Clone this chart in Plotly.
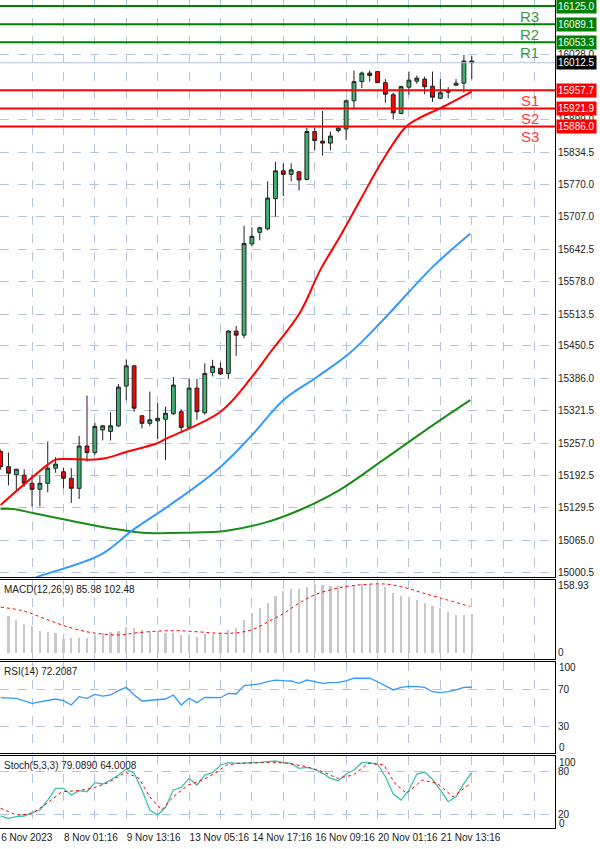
import plotly.graph_objects as go

# ---- price candles (4h bars), index 0..60
bar_idx = list(range(61))
opens = [15241, 15211, 15195, 15194, 15178, 15166, 15178, 15208, 15201, 15188,
         15168, 15252, 15239, 15284, 15281, 15292, 15371, 15411, 15312, 15297,
         15302, 15305, 15316, 15320, 15289, 15367, 15318, 15398, 15406, 15396,
         15480, 15472, 15653, 15676, 15683, 15743, 15798, 15791, 15796, 15781,
         15876, 15857, 15853, 15878, 15881, 15937, 15975, 15992, 15995, 15973,
         15949, 15912, 15964, 15976, 15980, 15966, 15942, 15954, 15968, 15972, 16016]
highs = [15245, 15239, 15206, 15206, 15195, 15193, 15261, 15230, 15209, 15208,
         15272, 15352, 15298, 15293, 15319, 15375, 15424, 15413, 15313, 15360,
         15337, 15330, 15389, 15325, 15385, 15385, 15416, 15423, 15418, 15482,
         15490, 15689, 15686, 15687, 15777, 15816, 15813, 15813, 15797, 15883,
         15884, 15917, 15876, 15886, 15940, 15997, 15995, 15997, 15996, 15980,
         15953, 15967, 15995, 15987, 15985, 15995, 15980, 15964, 15980, 16028, 16026]
lows = [15205, 15174, 15163, 15171, 15132, 15132, 15160, 15199, 15168, 15139,
        15147, 15221, 15234, 15263, 15263, 15290, 15343, 15320, 15287, 15292,
        15266, 15224, 15314, 15281, 15287, 15304, 15314, 15390, 15393, 15385,
        15431, 15466, 15648, 15660, 15680, 15707, 15748, 15777, 15759, 15779,
        15839, 15828, 15839, 15874, 15859, 15920, 15962, 15975, 15972, 15933,
        15900, 15910, 15949, 15971, 15950, 15935, 15940, 15942, 15966, 15953, 15980]
closes = [15211, 15198, 15206, 15178, 15166, 15178, 15208, 15216, 15188, 15168,
          15252, 15239, 15291, 15292, 15292, 15369, 15411, 15327, 15297, 15304,
          15307, 15317, 15373, 15289, 15367, 15320, 15396, 15410, 15395, 15480,
          15472, 15654, 15668, 15685, 15744, 15798, 15791, 15800, 15780, 15876,
          15858, 15853, 15867, 15883, 15937, 15975, 15992, 15987, 15973, 15950,
          15913, 15965, 15978, 15982, 15965, 15944, 15953, 15958, 15972, 16016, 16012.5]

# moving averages (knots)
ma_red_x = [0, 6, 7, 8.5, 12.7, 16, 20, 21, 28, 32, 34.3, 38.1, 40.7, 43.2, 45.8, 48.7, 51.6, 53.6, 56.1, 60]
ma_red_y = [15135, 15215, 15225, 15226, 15226, 15240, 15258, 15266, 15320, 15389, 15437, 15516,
            15601, 15667, 15740, 15820, 15885, 15905, 15923, 15955]
ma_blue_x = [3.5, 5, 12.7, 16.9, 21.2, 27.6, 31.8, 36, 40.3, 44.5, 48.7, 55, 59.8]
ma_blue_y = [14985, 14994, 15036, 15086, 15131, 15205, 15270, 15343, 15389, 15437, 15502, 15607, 15673]
ma_green_x = [0, 1.6, 4.1, 8.5, 13.9, 18.1, 23.8, 28.8, 33.9, 38.1, 43.2, 48.7, 55.1, 59.8]
ma_green_y = [15127, 15127, 15119, 15105, 15089, 15080, 15080, 15084, 15101, 15125, 15165, 15224, 15294, 15343]

resist = [16053.3, 16089.1, 16125.0]
support = [15957.7, 15921.9, 15886.0]
last_price = 16012.5

price_ticks = [16028.0, 15899.0, 15834.5, 15770.0, 15707.0, 15642.5, 15578.0, 15513.5,
               15450.5, 15386.0, 15321.5, 15257.0, 15192.5, 15129.5, 15065.0, 15000.5]

# MACD
macd_x = list(range(1, 61))
macd_hist = [87.0, 77.6, 68.1, 63.3, 52.2, 49.8, 47.4, 32.5, 34.1, 34.9, 35.6, 42.0, 46.0, 49.8, 51.5,
             61.7, 57.9, 53.8, 52.2, 52.2, 46.0, 47.4, 42.0, 42.0, 38.0, 43.6, 43.6, 46.0, 53.8, 57.9,
             77.6, 93.5, 105.3, 118.6, 134.5, 147.1, 150.4, 150.4, 156.6, 160.6, 160.6, 158.9, 158.9,
             160.6, 160.6, 162.2, 162.2, 160.6, 156.6, 142.3, 134.5, 131.4, 125.0, 118.6, 110.8, 105.3,
             97.3, 89.4, 89.4, 91.8]
sig_x = [0, 2.9, 5.8, 8.7, 11.6, 15.1, 17.5, 21.9, 25.3, 27.8, 30.2, 32.2, 34.1, 36.1, 38.0, 40.0,
         42.9, 45.8, 49.2, 51.7, 53.6, 56.1, 59.8]
sig_y = [107.7, 98.9, 79.2, 60.2, 47.4, 42.0, 47.4, 52.2, 49.1, 46.0, 47.4, 55.5, 73.5, 93.5, 117.2,
         136.9, 152.8, 160.6, 162.2, 152.8, 142.3, 129.0, 109.1]

# RSI
rsi_x = [0, 2, 4, 6, 7, 8, 9, 10, 11, 12, 13, 14, 15, 16, 17, 18, 20, 21, 22, 23, 24, 25, 26, 28, 29, 30,
         31, 32, 33, 34, 35, 36, 37, 38, 39, 40, 41, 42, 43, 44, 45, 46, 47, 48, 49, 50, 51, 52, 53, 54,
         55, 56, 57, 58, 59, 60]
rsi_y = [61.0, 60.4, 55.0, 58.6, 59.6, 57.8, 53.2, 62.1, 60.4, 64.6, 62.8, 63.9, 68.5, 72.1, 63.9, 57.5,
         58.6, 59.6, 63.9, 53.2, 60.4, 55.7, 61.4, 61.0, 65.7, 65.0, 73.9, 74.6, 75.7, 78.1, 79.9, 79.2,
         78.9, 76.4, 79.9, 78.1, 76.4, 77.1, 77.5, 78.9, 81.8, 81.8, 81.8, 78.1, 73.5, 69.3, 72.1, 73.2,
         72.8, 72.1, 67.4, 66.4, 67.4, 69.3, 72.1, 72.2]

# Stochastic
stoch_k = [18.6, 15.3, 17.6, 18.6, 23.2, 26.9, 40.7, 56.9, 56.9, 47.6, 53.6, 52.2, 64.7, 62.9, 68.4,
           75.3, 83.7, 77.7, 54.6, 26.9, 19.9, 30.6, 54.6, 58.3, 70.8, 61.5, 75.3, 78.5, 89.2, 92.4,
           91.5, 91.5, 92.4, 92.9, 93.4, 94.7, 92.4, 91.5, 84.6, 86.0, 83.2, 77.7, 70.8, 67.5, 76.7,
           82.3, 92.4, 92.4, 90.6, 73.0, 49.0, 40.7, 54.6, 76.7, 79.5, 69.4, 54.6, 38.4, 45.3, 63.8, 79.1]
stoch_d_x = [0, 2, 3.9, 5.9, 7.8, 9.8, 11.7, 13.7, 15.9, 17.6, 19, 20.5, 22, 23.9, 25.9, 27.3, 28.8, 30.2,
             33.2, 36.1, 39, 41, 42.9, 44.9, 46.8, 48.8, 50.2, 51.7, 53.7, 55.6, 57.6, 59.9]
stoch_d_y = [29.2, 19.9, 21.3, 36.1, 52.2, 53.6, 56.9, 64.7, 79.1, 70.8, 45.3, 26.9, 45.3, 61.5, 69.4,
             77.7, 89.2, 91.5, 92.4, 92.4, 86.8, 79.9, 70.8, 75.3, 91.5, 89.2, 63.8, 50.0, 68.4, 63.8,
             45.3, 64.0]

date_idx = [0, 8, 16, 24, 32, 40, 48, 56]
date_labels = ["6 Nov 2023", "8 Nov 01:16", "9 Nov 13:16", "13 Nov 05:16", "14 Nov 17:16",
               "16 Nov 09:16", "20 Nov 01:16", "21 Nov 13:16"]

FONT = "Liberation Sans"
GRID = "#b4c4da"

fig = go.Figure()

fig.add_trace(go.Candlestick(
    x=bar_idx, open=opens, high=highs, low=lows, close=closes,
    increasing=dict(fillcolor="#3cb371", line=dict(color="#222222", width=1)),
    decreasing=dict(fillcolor="#ff0000", line=dict(color="#222222", width=1)),
    whiskerwidth=0, xaxis="x", yaxis="y"))

for xs, ys, col in [(ma_green_x, ma_green_y, "#1a8c1a"), (ma_blue_x, ma_blue_y, "#3399ff"),
                    (ma_red_x, ma_red_y, "#ff0000")]:
    fig.add_trace(go.Scatter(x=xs, y=ys, mode="lines", line=dict(color=col, width=2, shape="spline"),
                             xaxis="x", yaxis="y"))

fig.add_trace(go.Bar(x=macd_x, y=macd_hist, width=0.28, marker=dict(color="#c8c8c8", line_width=0),
                     xaxis="x2", yaxis="y2"))
fig.add_trace(go.Scatter(x=sig_x, y=sig_y, mode="lines",
                         line=dict(color="#ff0000", width=1, dash="dot", shape="spline"),
                         xaxis="x2", yaxis="y2"))

fig.add_trace(go.Scatter(x=rsi_x, y=rsi_y, mode="lines", line=dict(color="#3399ff", width=1.3),
                         xaxis="x3", yaxis="y3"))

fig.add_trace(go.Scatter(x=bar_idx, y=stoch_k, mode="lines", line=dict(color="#40c0b0", width=1.3),
                         xaxis="x4", yaxis="y4"))
fig.add_trace(go.Scatter(x=stoch_d_x, y=stoch_d_y, mode="lines",
                         line=dict(color="#ff0000", width=1, dash="dot"),
                         xaxis="x4", yaxis="y4"))

shapes = []
anns = []
for lv, name in zip(resist, ["R1", "R2", "R3"]):
    shapes.append(dict(type="line", xref="paper", x0=0, x1=1, yref="y", y0=lv, y1=lv,
                       line=dict(color="#008000", width=2)))
    anns.append(dict(xref="paper", x=1.0, yref="y", y=lv, text=f"{lv:.1f}", showarrow=False,
                     xanchor="left", bgcolor="#008000", font=dict(color="white", size=10, family=FONT),
                     borderpad=1, xshift=1))
    anns.append(dict(xref="paper", x=0.975, yref="y", y=lv, text=name, showarrow=False,
                     xanchor="right", yanchor="top", font=dict(color="#3c9c3c", size=15, family=FONT)))
for lv, name in zip(support, ["S1", "S2", "S3"]):
    shapes.append(dict(type="line", xref="paper", x0=0, x1=1, yref="y", y0=lv, y1=lv,
                       line=dict(color="#ff0000", width=2)))
    anns.append(dict(xref="paper", x=1.0, yref="y", y=lv, text=f"{lv:.1f}", showarrow=False,
                     xanchor="left", bgcolor="#ff0000", font=dict(color="white", size=10, family=FONT),
                     borderpad=1, xshift=1))
    anns.append(dict(xref="paper", x=0.975, yref="y", y=lv, text=name, showarrow=False,
                     xanchor="right", yanchor="top", font=dict(color="#ff3c3c", size=15, family=FONT)))
shapes.append(dict(type="line", xref="paper", x0=0, x1=1, yref="y", y0=last_price, y1=last_price,
                   line=dict(color="#b4c4da", width=1)))
anns.append(dict(xref="paper", x=1.0, yref="y", y=last_price, text=f"{last_price:.1f}", showarrow=False,
                 xanchor="left", bgcolor="#000000", font=dict(color="white", size=10, family=FONT),
                 borderpad=1, xshift=1))

# panel captions
for yref, yv, txt in [("y2", 168, "MACD(12,26,9) 85.98 102.48"), ("y3", 97, "RSI(14) 72.2087"),
                      ("y4", 99.5, "Stoch(5,3,3) 79.0890 64.0008")]:
    anns.append(dict(xref="paper", x=0.003, yref=yref, y=yv, text=txt, showarrow=False,
                     xanchor="left", yanchor="top", font=dict(color="#222222", size=10, family=FONT)))
# extra scale labels in indicator panels
for yref, yv, txt in [("y3", 93.1, "100"), ("y3", 8.0, "0"), ("y4", 92.5, "100"), ("y4", 8.4, "0")]:
    anns.append(dict(xref="paper", x=1.0, yref=yref, y=yv, text=txt, showarrow=False, xanchor="left",
                     xshift=2, font=dict(color="#222222", size=10, family=FONT)))

grid_vals = list(range(0, 72, 4))
grid_text = [date_labels[date_idx.index(v)] if v in date_idx else "" for v in grid_vals]

xcommon = dict(range=[-0.08, 70.6], tickvals=grid_vals, showgrid=True, gridcolor=GRID, griddash="dash",
               gridwidth=1, zeroline=False, showline=True, mirror=True, linecolor="black", linewidth=1,
               ticks="", fixedrange=True)
ycommon = dict(side="right", showline=True, mirror=True, linecolor="black", linewidth=1, zeroline=False,
               ticks="", tickfont=dict(size=10, family=FONT, color="#222222"), gridcolor=GRID, griddash="dash")

fig.update_layout(
    width=600, height=849, margin=dict(l=0, r=45, t=0, b=21),
    paper_bgcolor="white", plot_bgcolor="white", showlegend=False, bargap=0,
    font=dict(family=FONT),
    xaxis=dict(**xcommon, anchor="y", showticklabels=False, rangeslider=dict(visible=False)),
    xaxis2=dict(**xcommon, anchor="y2", matches="x", showticklabels=False),
    xaxis3=dict(**xcommon, anchor="y3", matches="x", showticklabels=False),
    xaxis4=dict(**xcommon, anchor="y4", matches="x", ticktext=grid_text, ticklabelposition="outside right",
                tickfont=dict(size=10, family=FONT, color="#222222"), tickangle=0),
    yaxis=dict(**ycommon, domain=[0.3031, 1], range=[14992, 16137], tickvals=price_ticks,
               ticktext=[f"{v:.1f}" for v in price_ticks], showgrid=True),
    yaxis2=dict(**ycommon, domain=[0.2041, 0.2995], range=[-15, 172], tickvals=[158.93, 0],
                ticktext=["158.93", "0"], showgrid=False),
    yaxis3=dict(**ycommon, domain=[0.0906, 0.2005], range=[1.9, 99.2], tickvals=[70, 30], showgrid=True),
    yaxis4=dict(**ycommon, domain=[0, 0.087], range=[2.0, 101.7], tickvals=[80, 20], showgrid=True),
    shapes=shapes, annotations=anns,
)

fig.write_html("out.html", config={"displayModeBar": False},
               post_script="document.body.style.margin='0';document.body.style.overflow='hidden';")
